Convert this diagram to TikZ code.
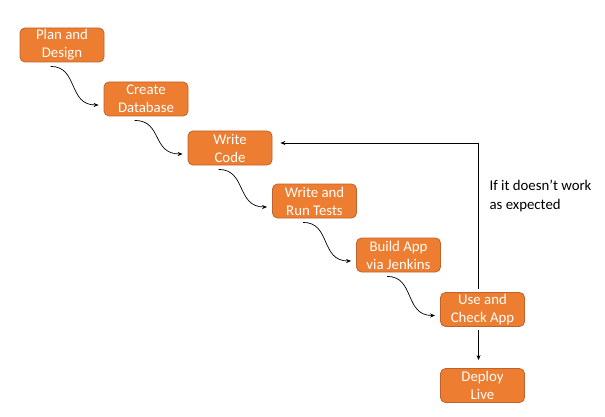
\documentclass[tikz,border=0pt]{standalone}
\usepackage{fontspec}
\setmainfont{Carlito}
\usetikzlibrary{calc,arrows.meta}
\definecolor{boxfill}{HTML}{ED7D31}
\definecolor{boxline}{HTML}{C0622A}
\begin{document}
\begin{tikzpicture}[x=1pt,y=-1pt,
  stepbox/.style={draw=boxline,line width=0.8pt,fill=boxfill,rounded corners=5pt,
    minimum width=84pt,minimum height=34pt,inner sep=0pt,text=white,align=center,
    font=\fontsize{14.8}{18}\selectfont},
  conn/.style={draw=black,line width=0.7pt,-{Stealth[length=5pt,width=4pt]}},
  lbl/.style={font=\fontsize{14.8}{19}\selectfont,align=left,text=black}]
\useasboundingbox (0,0) rectangle (605,417);
\node[stepbox] (b1) at (62,45) {Plan and\\Design};
\node[stepbox] (b2) at (146,99) {Create\\Database};
\node[stepbox] (b3) at (230,148) {Write\\Code};
\node[stepbox] (b4) at (314.5,201) {Write and\\Run Tests};
\node[stepbox] (b5) at (398.5,255) {Build App\\via Jenkins};
\node[stepbox] (b6) at (482.5,309.5) {Use and\\Check App};
\node[stepbox] (b7) at (482.5,385.5) {Deploy\\Live};
\foreach \a/\b in {b1/b2,b2/b3,b3/b4,b4/b5,b5/b6}{
  \draw[conn] ($(\a.south west)+(31,4)$) .. controls ($(\a.south west)+(59,4)$) and ($(\b.west)+(-36,6)$) .. ($(\b.west)+(-5,6)$);
}
\draw[conn] ($(b6.north)+(-4,-3)$) |- ($(b3.east)+(8,-5)$);
\draw[conn] ($(b6.south)+(-4,3)$) -- ($(b7.north)+(-4,-8)$);
\node[lbl,anchor=west] (note) at (486,196) {If it doesn\char"0027 t work\\as expected};
\end{tikzpicture}
\end{document}
